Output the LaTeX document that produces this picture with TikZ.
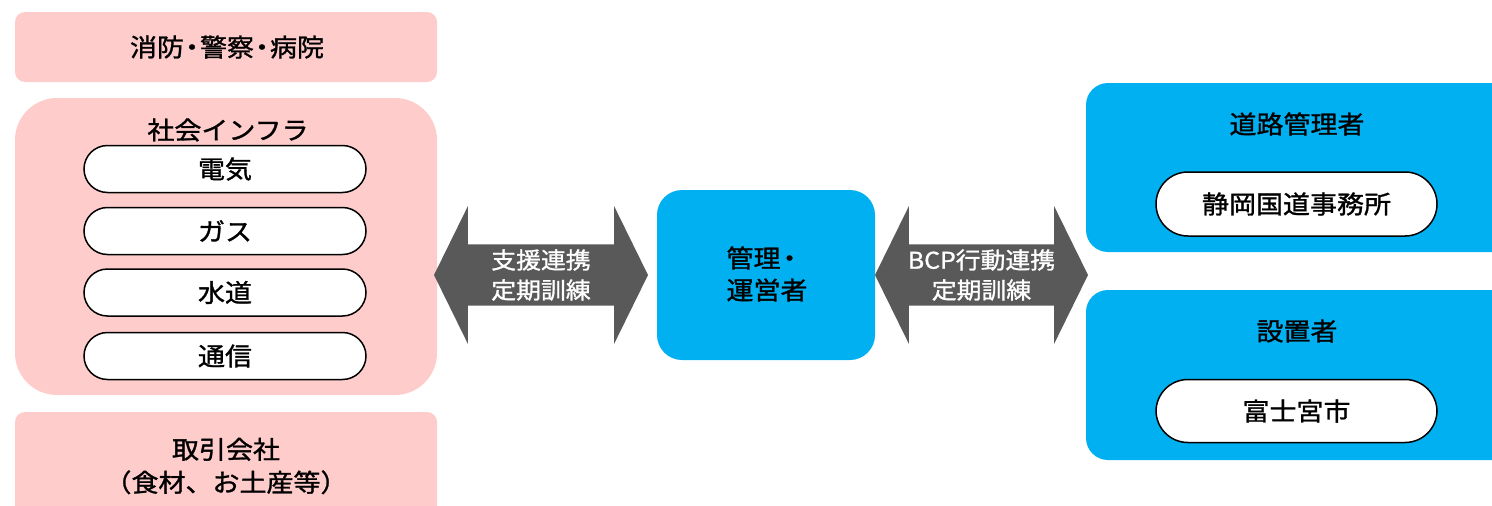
\documentclass[tikz,border=0pt]{standalone}
\usepackage{fontspec}
\setmainfont[FakeStretch=1.08,FakeBold=1.2]{Noto Sans CJK JP}
\usetikzlibrary{shapes.arrows}
\definecolor{pinkfill}{HTML}{FFCCCC}
\definecolor{bluefill}{HTML}{00B0F0}
\definecolor{arrowgray}{HTML}{595959}
\tikzset{
  pinkbox/.style={rectangle, fill=pinkfill, draw=none, inner sep=0pt},
  bluebox/.style={rectangle, fill=bluefill, draw=none, inner sep=0pt},
  pill/.style={rectangle, fill=white, draw=black, line width=1.5pt, inner sep=0pt},
  lbl/.style={inner sep=0pt, align=center, font=\fontsize{25}{33}\selectfont},
  link/.style={shape=double arrow, fill=arrowgray, draw=none, inner sep=0pt,
    double arrow head extend=32.5pt, double arrow tip angle=127.6,
    text=white, align=center, font=\fontsize{23}{30}\selectfont},
}
\newcommand{\kdot}{\makebox[16pt]{・}}
\begin{document}
\begin{tikzpicture}[x=1pt,y=-1pt]
\useasboundingbox (0,0) rectangle (1492,506);
\clip (0,0) rectangle (1492,506);
% left column
\node[pinkbox, rounded corners=10pt, minimum width=422pt, minimum height=70pt] (fire) at (226,47) {};
\node[lbl] (firet) at (227,47) {消防\kdot 警察\kdot 病院};
\node[pinkbox, rounded corners=42pt, minimum width=422pt, minimum height=297pt] (infra) at (226,246.5) {};
\node[lbl] (infrat) at (228,130) {社会インフラ};
\node[pill, rounded corners=23.5pt, minimum width=282pt, minimum height=47pt] (elec) at (225,169) {};
\node[lbl] at (elec) {電気};
\node[pill, rounded corners=23.5pt, minimum width=282pt, minimum height=47pt] (gas) at (225,231) {};
\node[lbl] at (gas) {ガス};
\node[pill, rounded corners=23.5pt, minimum width=282pt, minimum height=47pt] (water) at (225,292.5) {};
\node[lbl] at (water) {水道};
\node[pill, rounded corners=23.5pt, minimum width=282pt, minimum height=47pt] (comm) at (225,356) {};
\node[lbl] at (comm) {通信};
\node[pinkbox, rounded corners=10pt, minimum width=422pt, minimum height=128pt] (trade) at (226,476) {};
\node[lbl] (tradet) at (226,466) {取引会社\\（食材、お土産等）};
% center
\node[bluebox, rounded corners=25pt, minimum width=218pt, minimum height=170pt] (mgr) at (766,275) {};
\node[lbl, align=left, font=\fontsize{25}{32}\selectfont] (mgrt) at (767,274) {管理\makebox[18pt]{・}\\運営者};
% right column
\node[bluebox, rounded corners=22pt, minimum width=434pt, minimum height=169pt] (road) at (1303,167.5) {};
\node[lbl] (roadt) at (1297,124) {道路管理者};
\node[pill, rounded corners=32pt, minimum width=281pt, minimum height=64pt] (shizu) at (1296.5,204) {};
\node[lbl] at (shizu) {静岡国道事務所};
\node[bluebox, rounded corners=22pt, minimum width=434pt, minimum height=170pt] (owner) at (1303,375) {};
\node[lbl] (ownert) at (1297,331) {設置者};
\node[pill, rounded corners=32pt, minimum width=281pt, minimum height=63pt] (fuji) at (1296.5,411) {};
\node[lbl] at (fuji) {富士宮市};
% links
\node[link, minimum height=214pt, minimum width=138pt] (l1) at (541,275) {支援連携\\定期訓練};
\node[link, minimum height=213pt, minimum width=138pt] (l2) at (981.5,275) {BCP行動連携\\定期訓練};
\end{tikzpicture}
\end{document}
